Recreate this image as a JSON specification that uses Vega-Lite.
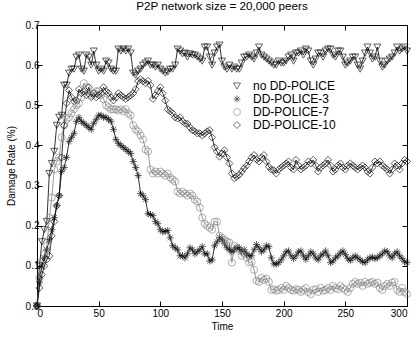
{
"$schema":"https://vega.github.io/schema/vega-lite/v6.json",
"width":370,"height":281,
"autosize":"none",
"padding":{"left":37,"top":25,"right":11,"bottom":31},
"background":"white",
"config":{"font":"Liberation Sans","view":{"stroke":"black","strokeWidth":1},
"axis":{"grid":false,"domain":false,"tickColor":"black","tickSize":-5,"tickWidth":1,"labelColor":"black","labelFontSize":10,"titleFontSize":10,"titleFontWeight":"normal","titleColor":"black","labelFont":"Liberation Sans","titleFont":"Liberation Sans"},
"legend":{"labelFontSize":12,"labelFont":"Liberation Sans","labelColor":"black"}},
"title":{"text":"P2P network size = 20,000 peers","fontSize":11.7,"fontWeight":"normal","font":"Liberation Sans","offset":7,"anchor":"middle","color":"black"},
"data":{"values":[
{"t":0,"a":0,"b":0,"c":0,"d":0},
{"t":2,"a":0.10,"b":0.06,"c":0.07,"d":0.045},
{"t":4,"a":0.16,"b":0.10,"c":0.11,"d":0.078},
{"t":6,"a":0.19,"b":0.12,"c":0.13,"d":0.10},
{"t":8,"a":0.21,"b":0.14,"c":0.15,"d":0.116},
{"t":10,"a":0.33,"b":0.165,"c":0.22,"d":0.125},
{"t":12,"a":0.355,"b":0.19,"c":0.27,"d":0.175},
{"t":14,"a":0.385,"b":0.22,"c":0.34,"d":0.21},
{"t":16,"a":0.45,"b":0.25,"c":0.36,"d":0.25},
{"t":18,"a":0.47,"b":0.275,"c":0.37,"d":0.275},
{"t":20,"a":0.475,"b":0.335,"c":0.42,"d":0.37},
{"t":22,"a":0.55,"b":0.345,"c":0.45,"d":0.45},
{"t":24,"a":0.55,"b":0.37,"c":0.465,"d":0.505},
{"t":26,"a":0.58,"b":0.41,"c":0.47,"d":0.537},
{"t":28,"a":0.59,"b":0.42,"c":0.48,"d":0.52},
{"t":30,"a":0.59,"b":0.43,"c":0.49,"d":0.51},
{"t":32,"a":0.62,"b":0.46,"c":0.50,"d":0.512},
{"t":34,"a":0.625,"b":0.47,"c":0.505,"d":0.54},
{"t":36,"a":0.59,"b":0.46,"c":0.52,"d":0.53},
{"t":38,"a":0.585,"b":0.455,"c":0.555,"d":0.535},
{"t":40,"a":0.625,"b":0.45,"c":0.545,"d":0.525},
{"t":42,"a":0.62,"b":0.445,"c":0.53,"d":0.545},
{"t":44,"a":0.60,"b":0.44,"c":0.525,"d":0.52},
{"t":46,"a":0.635,"b":0.455,"c":0.53,"d":0.53},
{"t":48,"a":0.60,"b":0.465,"c":0.535,"d":0.52},
{"t":50,"a":0.585,"b":0.475,"c":0.535,"d":0.525},
{"t":52,"a":0.59,"b":0.475,"c":0.525,"d":0.53},
{"t":54,"a":0.585,"b":0.47,"c":0.515,"d":0.545},
{"t":56,"a":0.61,"b":0.47,"c":0.50,"d":0.535},
{"t":58,"a":0.605,"b":0.465,"c":0.495,"d":0.53},
{"t":60,"a":0.59,"b":0.46,"c":0.49,"d":0.52},
{"t":62,"a":0.585,"b":0.44,"c":0.49,"d":0.512},
{"t":64,"a":0.585,"b":0.415,"c":0.49,"d":0.52},
{"t":66,"a":0.64,"b":0.405,"c":0.487,"d":0.53},
{"t":68,"a":0.635,"b":0.40,"c":0.49,"d":0.525},
{"t":70,"a":0.64,"b":0.395,"c":0.485,"d":0.52},
{"t":72,"a":0.635,"b":0.39,"c":0.49,"d":0.516},
{"t":74,"a":0.64,"b":0.385,"c":0.48,"d":0.52},
{"t":76,"a":0.63,"b":0.38,"c":0.475,"d":0.525},
{"t":78,"a":0.58,"b":0.36,"c":0.45,"d":0.53},
{"t":80,"a":0.575,"b":0.345,"c":0.44,"d":0.54},
{"t":82,"a":0.585,"b":0.325,"c":0.435,"d":0.56},
{"t":84,"a":0.59,"b":0.28,"c":0.425,"d":0.565},
{"t":86,"a":0.60,"b":0.275,"c":0.415,"d":0.56},
{"t":88,"a":0.605,"b":0.265,"c":0.39,"d":0.555},
{"t":90,"a":0.61,"b":0.23,"c":0.385,"d":0.561},
{"t":92,"a":0.60,"b":0.228,"c":0.34,"d":0.55},
{"t":94,"a":0.60,"b":0.225,"c":0.33,"d":0.516},
{"t":96,"a":0.595,"b":0.21,"c":0.335,"d":0.525},
{"t":98,"a":0.60,"b":0.205,"c":0.33,"d":0.535},
{"t":100,"a":0.59,"b":0.19,"c":0.335,"d":0.545},
{"t":102,"a":0.585,"b":0.185,"c":0.33,"d":0.53},
{"t":104,"a":0.58,"b":0.186,"c":0.325,"d":0.512},
{"t":106,"a":0.583,"b":0.188,"c":0.33,"d":0.49},
{"t":108,"a":0.59,"b":0.17,"c":0.32,"d":0.485},
{"t":110,"a":0.59,"b":0.15,"c":0.315,"d":0.48},
{"t":112,"a":0.60,"b":0.145,"c":0.31,"d":0.47},
{"t":114,"a":0.64,"b":0.14,"c":0.285,"d":0.467},
{"t":116,"a":0.635,"b":0.125,"c":0.28,"d":0.47},
{"t":118,"a":0.628,"b":0.125,"c":0.285,"d":0.46},
{"t":120,"a":0.63,"b":0.12,"c":0.28,"d":0.455},
{"t":122,"a":0.62,"b":0.13,"c":0.275,"d":0.454},
{"t":124,"a":0.628,"b":0.145,"c":0.28,"d":0.445},
{"t":126,"a":0.625,"b":0.14,"c":0.275,"d":0.438},
{"t":128,"a":0.625,"b":0.13,"c":0.265,"d":0.435},
{"t":130,"a":0.62,"b":0.135,"c":0.26,"d":0.43},
{"t":132,"a":0.615,"b":0.14,"c":0.245,"d":0.43},
{"t":134,"a":0.61,"b":0.148,"c":0.22,"d":0.425},
{"t":136,"a":0.645,"b":0.13,"c":0.205,"d":0.43},
{"t":138,"a":0.645,"b":0.13,"c":0.20,"d":0.435},
{"t":140,"a":0.62,"b":0.112,"c":0.195,"d":0.438},
{"t":142,"a":0.60,"b":0.115,"c":0.19,"d":0.42},
{"t":144,"a":0.63,"b":0.15,"c":0.21,"d":0.395},
{"t":146,"a":0.645,"b":0.16,"c":0.21,"d":0.385},
{"t":148,"a":0.65,"b":0.17,"c":0.175,"d":0.372},
{"t":150,"a":0.61,"b":0.165,"c":0.17,"d":0.38},
{"t":152,"a":0.595,"b":0.155,"c":0.165,"d":0.388},
{"t":154,"a":0.59,"b":0.145,"c":0.16,"d":0.37},
{"t":156,"a":0.60,"b":0.14,"c":0.158,"d":0.355},
{"t":158,"a":0.59,"b":0.135,"c":0.108,"d":0.33},
{"t":160,"a":0.595,"b":0.14,"c":0.15,"d":0.318},
{"t":162,"a":0.59,"b":0.145,"c":0.145,"d":0.322},
{"t":164,"a":0.59,"b":0.145,"c":0.14,"d":0.327},
{"t":166,"a":0.605,"b":0.135,"c":0.125,"d":0.335},
{"t":168,"a":0.62,"b":0.14,"c":0.13,"d":0.343},
{"t":170,"a":0.62,"b":0.13,"c":0.12,"d":0.35},
{"t":172,"a":0.625,"b":0.125,"c":0.108,"d":0.36},
{"t":174,"a":0.62,"b":0.125,"c":0.11,"d":0.37},
{"t":176,"a":0.615,"b":0.14,"c":0.09,"d":0.376},
{"t":178,"a":0.63,"b":0.153,"c":0.063,"d":0.365},
{"t":180,"a":0.645,"b":0.145,"c":0.06,"d":0.36},
{"t":182,"a":0.625,"b":0.135,"c":0.07,"d":0.37},
{"t":184,"a":0.62,"b":0.14,"c":0.065,"d":0.376},
{"t":186,"a":0.615,"b":0.15,"c":0.068,"d":0.36},
{"t":188,"a":0.61,"b":0.148,"c":0.06,"d":0.347},
{"t":190,"a":0.605,"b":0.12,"c":0.04,"d":0.34},
{"t":192,"a":0.60,"b":0.105,"c":0.042,"d":0.338},
{"t":194,"a":0.60,"b":0.104,"c":0.038,"d":0.33},
{"t":196,"a":0.61,"b":0.108,"c":0.04,"d":0.34},
{"t":198,"a":0.605,"b":0.115,"c":0.045,"d":0.345},
{"t":200,"a":0.605,"b":0.125,"c":0.04,"d":0.35},
{"t":202,"a":0.61,"b":0.135,"c":0.05,"d":0.355},
{"t":204,"a":0.62,"b":0.137,"c":0.045,"d":0.36},
{"t":206,"a":0.625,"b":0.125,"c":0.04,"d":0.345},
{"t":208,"a":0.61,"b":0.118,"c":0.038,"d":0.34},
{"t":210,"a":0.63,"b":0.125,"c":0.042,"d":0.364},
{"t":212,"a":0.63,"b":0.135,"c":0.04,"d":0.35},
{"t":214,"a":0.635,"b":0.137,"c":0.035,"d":0.34},
{"t":216,"a":0.625,"b":0.125,"c":0.04,"d":0.345},
{"t":218,"a":0.64,"b":0.116,"c":0.045,"d":0.35},
{"t":220,"a":0.635,"b":0.125,"c":0.035,"d":0.36},
{"t":222,"a":0.61,"b":0.135,"c":0.03,"d":0.355},
{"t":224,"a":0.60,"b":0.13,"c":0.04,"d":0.364},
{"t":226,"a":0.615,"b":0.12,"c":0.042,"d":0.35},
{"t":228,"a":0.63,"b":0.115,"c":0.035,"d":0.335},
{"t":230,"a":0.63,"b":0.125,"c":0.045,"d":0.345},
{"t":232,"a":0.62,"b":0.13,"c":0.038,"d":0.35},
{"t":234,"a":0.635,"b":0.137,"c":0.04,"d":0.355},
{"t":236,"a":0.64,"b":0.125,"c":0.045,"d":0.364},
{"t":238,"a":0.64,"b":0.108,"c":0.04,"d":0.35},
{"t":240,"a":0.625,"b":0.112,"c":0.05,"d":0.335},
{"t":242,"a":0.62,"b":0.12,"c":0.045,"d":0.34},
{"t":244,"a":0.635,"b":0.125,"c":0.042,"d":0.35},
{"t":246,"a":0.635,"b":0.132,"c":0.05,"d":0.355},
{"t":248,"a":0.62,"b":0.137,"c":0.045,"d":0.345},
{"t":250,"a":0.60,"b":0.128,"c":0.04,"d":0.34},
{"t":252,"a":0.605,"b":0.118,"c":0.035,"d":0.35},
{"t":254,"a":0.61,"b":0.113,"c":0.045,"d":0.355},
{"t":256,"a":0.62,"b":0.12,"c":0.055,"d":0.35},
{"t":258,"a":0.62,"b":0.125,"c":0.06,"d":0.345},
{"t":260,"a":0.60,"b":0.12,"c":0.055,"d":0.34},
{"t":262,"a":0.59,"b":0.115,"c":0.058,"d":0.345},
{"t":264,"a":0.61,"b":0.11,"c":0.05,"d":0.35},
{"t":266,"a":0.63,"b":0.108,"c":0.06,"d":0.345},
{"t":268,"a":0.645,"b":0.115,"c":0.055,"d":0.335},
{"t":270,"a":0.63,"b":0.12,"c":0.058,"d":0.33},
{"t":272,"a":0.615,"b":0.122,"c":0.06,"d":0.345},
{"t":274,"a":0.62,"b":0.118,"c":0.055,"d":0.36},
{"t":276,"a":0.645,"b":0.12,"c":0.058,"d":0.355},
{"t":278,"a":0.61,"b":0.125,"c":0.045,"d":0.36},
{"t":280,"a":0.595,"b":0.13,"c":0.04,"d":0.35},
{"t":282,"a":0.60,"b":0.137,"c":0.05,"d":0.345},
{"t":284,"a":0.61,"b":0.135,"c":0.055,"d":0.34},
{"t":286,"a":0.615,"b":0.125,"c":0.05,"d":0.33},
{"t":288,"a":0.62,"b":0.12,"c":0.058,"d":0.34},
{"t":290,"a":0.63,"b":0.13,"c":0.06,"d":0.355},
{"t":292,"a":0.645,"b":0.135,"c":0.04,"d":0.35},
{"t":294,"a":0.635,"b":0.125,"c":0.035,"d":0.34},
{"t":296,"a":0.64,"b":0.118,"c":0.045,"d":0.355},
{"t":298,"a":0.645,"b":0.11,"c":0.035,"d":0.364},
{"t":300,"a":0.635,"b":0.108,"c":0.03,"d":0.36}
]},
"transform":[{"fold":["a","b","c","d"],"as":["s","v"]}],
"layer":[
{"mark":{"type":"line","strokeWidth":0.8},
 "encoding":{
  "x":{"field":"t","type":"quantitative","scale":{"domain":[0,300],"nice":false},"axis":{"title":"Time","values":[0,50,100,150,200,250,300],"labelPadding":7,"titlePadding":3}},
  "y":{"field":"v","type":"quantitative","scale":{"domain":[0,0.7],"nice":false},"axis":{"title":"Damage Rate (%)","values":[0,0.1,0.2,0.3,0.4,0.5,0.6,0.7],"labelPadding":3,"titlePadding":9}},
  "color":{"field":"s","type":"nominal","scale":{"domain":["a","b","c","d"],"range":["black","black","#808080","black"]}},
  "detail":{"field":"s"}}},
{"mark":{"type":"point","filled":false,"strokeWidth":0.9,"size":50},
 "encoding":{
  "x":{"field":"t","type":"quantitative","axis":null},
  "y":{"field":"v","type":"quantitative","axis":null},
  "color":{"field":"s","type":"nominal"},
  "shape":{"field":"s","type":"nominal","scale":{"domain":["a","b","c","d"],"range":["triangle-down","M0,-1V1M-1,0H1M-0.7,-0.7L0.7,0.7M-0.7,0.7L0.7,-0.7","circle","diamond"]},"legend":{"title":null,"orient":"none","legendX":194,"legendY":55,"symbolSize":49,"symbolStrokeWidth":0.8,"labelOffset":10,"rowPadding":1,"padding":0,"labelExpr":"{'a':'no DD-POLICE','b':'DD-POLICE-3','c':'DD-POLICE-7','d':'DD-POLICE-10'}[datum.label]","encode":{"symbols":{"update":{"shape":{"signal":"datum.value==='a' ? 'M-2.7,0H2.7M-1,-0.8H1L0,1Z' : datum.value==='b' ? 'M-2.7,0H2.7M0,-1V1M-0.7,-0.7L0.7,0.7M-0.7,0.7L0.7,-0.7' : datum.value==='c' ? 'M-2.7,0H2.7M1,0A1,1,0,1,1,-1,0A1,1,0,1,1,1,0' : 'M-2.7,0H2.7M0,-1L1,0L0,1L-1,0Z'"}}}}}}}},
{"mark":{"type":"point","opacity":0},
 "encoding":{
  "x":{"field":"t","type":"quantitative","axis":{"orient":"top","labels":false,"title":null,"values":[0,50,100,150,200,250,300]}},
  "y":{"field":"v","type":"quantitative","axis":{"orient":"right","labels":false,"title":null,"values":[0,0.1,0.2,0.3,0.4,0.5,0.6,0.7]}}}}
],
"resolve":{"axis":{"x":"independent","y":"independent"}}
}
